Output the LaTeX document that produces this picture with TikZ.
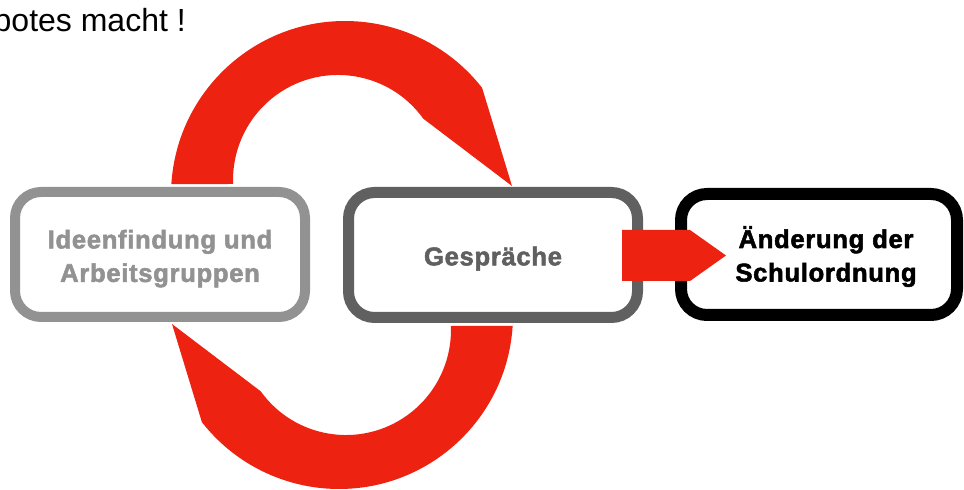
\documentclass[tikz,border=0pt]{standalone}
\usepackage{fontspec}
\setmainfont{Liberation Sans}
\newfontfamily\boxfont[LetterSpace=2.5, FakeBold=2]{Liberation Sans Bold}
\definecolor{arrowred}{RGB}{238,34,17}
\definecolor{graya}{RGB}{146,146,146}
\definecolor{grayb}{RGB}{96,96,96}
\tikzset{
  box/.style={draw, fill=white, rounded corners=26pt, inner sep=0pt},
  boxtext/.style={font=\boxfont\fontsize{25.7}{33.5}\selectfont, align=center, inner sep=0pt},
  bigarrow/.style={fill=arrowred, draw=none}
}
\begin{document}
\begin{tikzpicture}[x=1pt,y=1pt]
\useasboundingbox (0,0) rectangle (964,490);
% boxes
\node[box, draw=graya, line width=10pt, minimum width=290pt, minimum height=125pt] (b1) at (160,235.5) {};
\node[box, draw=grayb, line width=11pt, minimum width=289pt, minimum height=125pt] (b2) at (493,235) {};
\node[box, draw=black, line width=12pt, minimum width=276pt, minimum height=121pt] (b3) at (819,235.5) {};
% texts
\node[boxtext, text=graya] (t1) at (160,231.4) {Ideenfindung und\\Arbeitsgruppen};
\node[boxtext, text=grayb] (t2) at (493,231.3) {Gespräche};
\node[boxtext, text=black] (t3) at (826,233.5) {Änderung der\\Schulordnung};
% top text
\node[anchor=base east, inner sep=0pt, font=\fontsize{32}{38}\selectfont] (note) at (186,458) {Verbotes macht !};
% top circular arrow
\fill[bigarrow] (345,295) ++(176.4:174pt) arc[start angle=176.4, end angle=38, radius=174pt]
  -- (512,304) -- (423.3,371.3) arc[start angle=35.7, end angle=182.2, radius=105pt] -- cycle;
% bottom circular arrow
\fill[bigarrow] (339,175) ++(356.4:174pt) arc[start angle=356.4, end angle=218, radius=174pt]
  -- (172,166) -- (260.7,98.7) arc[start angle=215.7, end angle=362.2, radius=105pt] -- cycle;
% arrow to the last box
\coordinate (a1) at (622,260);
\coordinate (a2) at (690,260);
\coordinate (a3) at (726,234.5);
\coordinate (a4) at (690,209);
\coordinate (a5) at (622,209);
\fill[bigarrow] (a1) -- (a2) -- (a3) -- (a4) -- (a5) -- cycle;
\end{tikzpicture}
\end{document}
